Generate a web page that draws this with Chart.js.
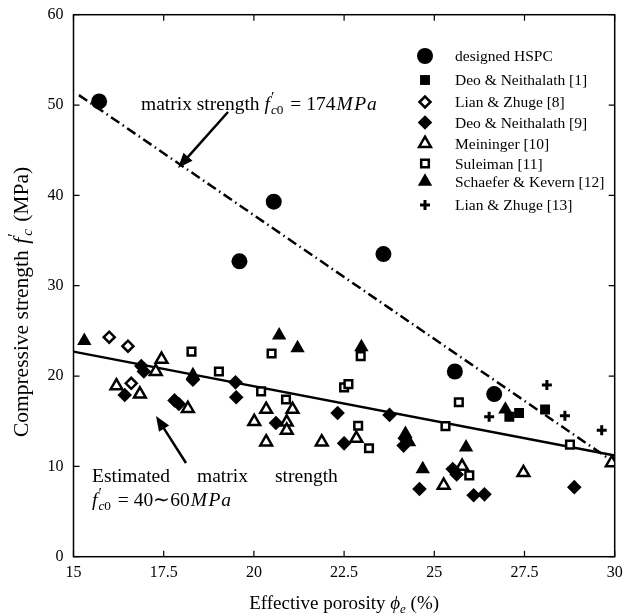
<!DOCTYPE html>
<html>
<head>
<meta charset="utf-8">
<script src="https://cdn.jsdelivr.net/npm/chart.js@4.4.1/dist/chart.umd.min.js"></script>
<style>
  html, body { margin: 0; padding: 0; background: #fff; }
  #wrap { width: 624px; height: 614px; }
</style>
</head>
<body>
<div id="wrap"><canvas id="porosityChart" width="624" height="614"></canvas></div>
<script>
// ticks
const xTicks = [15, 17.5, 20, 22.5, 25, 27.5, 30];
const yTicks = [0, 10, 20, 30, 40, 50, 60];

// [porosity %, strength MPa]
const hspc = [[15.71, 50.4], [19.6, 32.7], [20.55, 39.3], [23.59, 33.5], [25.57, 20.5], [26.66, 18.0]];
const deo1 = [[27.08, 15.5], [27.35, 15.9], [28.07, 16.3]];
const lian8 = [[15.99, 24.3], [16.51, 23.3], [16.6, 19.2]];
const deo9 = [[16.42, 17.9], [16.88, 21.1], [16.95, 20.5], [17.8, 17.3], [17.92, 16.9], [18.31, 19.6],
  [19.49, 19.3], [19.51, 17.65], [20.61, 14.8], [22.32, 15.9], [22.5, 12.55], [23.76, 15.7],
  [24.18, 13.1], [24.15, 12.3], [24.59, 7.5], [25.51, 9.7], [25.62, 9.1], [26.09, 6.8],
  [26.39, 6.9], [28.88, 7.7]];
const meininger = [[16.19, 18.9], [16.84, 18.0], [17.28, 20.5], [17.44, 21.85], [18.17, 16.4],
  [20.01, 14.95], [20.34, 16.3], [20.34, 12.7], [20.91, 14.9], [20.91, 14.0], [21.07, 16.3],
  [21.88, 12.7], [22.84, 13.1], [25.26, 7.9], [25.77, 10.0], [27.47, 9.3], [29.92, 10.4]];
const suleiman = [[18.27, 22.7], [19.03, 20.5], [20.2, 18.3], [20.49, 22.5], [20.89, 17.4],
  [22.5, 18.75], [22.62, 19.1], [22.89, 14.5], [22.96, 22.2], [23.19, 12.0], [25.31, 14.45],
  [25.68, 17.1], [25.97, 9.0], [28.76, 12.4]];
const schaefer = [[15.3, 23.9], [18.31, 20.1], [20.7, 24.5], [21.21, 23.1], [22.98, 23.2],
  [24.2, 13.6], [24.3, 12.7], [24.68, 9.7], [25.88, 12.1], [26.97, 16.3]];
const lian13 = [[26.52, 15.5], [28.12, 19.0], [28.62, 15.6], [29.64, 14.0]];

// fitted lines (end points)
const upperX = [15.15, 30];
const upperY = [51.1, 10.4];
const fitX = [15, 30];
const fitY = [22.7, 11.2];

const legendNames = ["designed HSPC", "Deo & Neithalath [1]", "Lian & Zhuge [8]", "Deo & Neithalath [9]",
  "Meininger [10]", "Suleiman [11]", "Schaefer & Kevern [12]", "Lian & Zhuge [13]"];

const SERIF = '"Liberation Serif", "Times New Roman", serif';

function pts(arr) { return arr.map(p => ({ x: p[0], y: p[1] })); }
function linePts(xs, ys) { return xs.map((x, i) => ({ x: x, y: ys[i] })); }

function marker(label, data, style, r, filled, bw) {
  return {
    label: label,
    data: pts(data),
    pointStyle: style,
    pointRadius: r,
    pointHoverRadius: r,
    backgroundColor: filled ? "#000" : "#fff",
    borderColor: "#000",
    borderWidth: bw,
    showLine: false
  };
}

const markerSets = [
  marker(legendNames[0], hspc, "circle", 8, true, 0),
  marker(legendNames[1], deo1, "rect", 7, true, 0),
  marker(legendNames[2], lian8, "rectRot", 5.5, false, 2.5),
  marker(legendNames[3], deo9, "rectRot", 7.3, true, 0),
  marker(legendNames[4], meininger, "triangle", 6.8, false, 2.5),
  marker(legendNames[5], suleiman, "rect", 5.4, false, 2.5),
  marker(legendNames[6], schaefer, "triangle", 8.3, true, 0),
  marker(legendNames[7], lian13, "cross", 5, false, 3)
];

// draw a list of text runs (for the math bits)
function runWidth(ctx, parts) {
  let w = 0;
  parts.forEach(p => { ctx.font = p.f; if (!p.noAdv) w += ctx.measureText(p.t).width + (p.dx || 0); });
  return w;
}
function drawRuns(ctx, x, y, parts) {
  parts.forEach(p => {
    ctx.font = p.f;
    ctx.fillText(p.t, x + (p.dx || 0), y + (p.dy || 0));
    if (!p.noAdv) x += ctx.measureText(p.t).width + (p.dx || 0);
  });
}
function arrow(ctx, x1, y1, x2, y2) {
  const a = Math.atan2(y2 - y1, x2 - x1);
  const hl = 15, hw = 6;
  ctx.lineWidth = 2.5;
  ctx.beginPath();
  ctx.moveTo(x1, y1);
  ctx.lineTo(x2 - Math.cos(a) * hl * 0.8, y2 - Math.sin(a) * hl * 0.8);
  ctx.stroke();
  ctx.beginPath();
  ctx.moveTo(x2, y2);
  ctx.lineTo(x2 - Math.cos(a) * hl - Math.sin(a) * hw, y2 - Math.sin(a) * hl + Math.cos(a) * hw);
  ctx.lineTo(x2 - Math.cos(a) * hl + Math.sin(a) * hw, y2 - Math.sin(a) * hl - Math.cos(a) * hw);
  ctx.closePath();
  ctx.fill();
}

const R = s => s + "px " + SERIF;
const I = s => "italic " + s + "px " + SERIF;

function fc0(size) {
  return [
    { t: "f", f: I(size) },
    { t: "\u2032", f: R(size * 0.8), dy: -size * 0.42, dx: 1, noAdv: true },
    { t: "c", f: I(size * 0.68), dy: size * 0.22, dx: 1 },
    { t: "0", f: R(size * 0.68), dy: size * 0.22 }
  ];
}
function mpa(size) {
  return [
    { t: "M", f: I(size), dx: 1 },
    { t: "P", f: I(size), dx: 1.5 },
    { t: "a", f: I(size), dx: 1 }
  ];
}

const decorPlugin = {
  id: "decor",
  afterDraw(chart) {
    const ctx = chart.ctx;
    const a = chart.chartArea;
    const xs = chart.scales.x, ys = chart.scales.y;
    ctx.save();
    ctx.fillStyle = "#000";
    ctx.strokeStyle = "#000";

    // frame + inward ticks on all sides
    ctx.lineWidth = 1.5;
    ctx.strokeRect(a.left, a.top, a.right - a.left, a.bottom - a.top);
    ctx.lineWidth = 1.2;
    ctx.beginPath();
    xTicks.forEach(v => {
      const px = xs.getPixelForValue(v);
      ctx.moveTo(px, a.bottom); ctx.lineTo(px, a.bottom - 6);
      ctx.moveTo(px, a.top); ctx.lineTo(px, a.top + 6);
    });
    yTicks.forEach(v => {
      const py = ys.getPixelForValue(v);
      ctx.moveTo(a.left, py); ctx.lineTo(a.left + 6, py);
      ctx.moveTo(a.right, py); ctx.lineTo(a.right - 6, py);
    });
    ctx.stroke();

    // legend
    ctx.textBaseline = "middle";
    ctx.textAlign = "left";
    const rowY = [56, 80, 102, 122.5, 143.5, 163.5, 181.5, 205];
    markerSets.forEach((ds, i) => {
      ctx.fillStyle = ds.backgroundColor;
      ctx.strokeStyle = ds.borderColor;
      ctx.lineWidth = ds.borderWidth;
      Chart.helpers.drawPoint(ctx, { pointStyle: ds.pointStyle, radius: ds.pointRadius, borderWidth: ds.borderWidth, rotation: 0 }, 425, rowY[i]);
      ctx.fillStyle = "#000";
      ctx.font = R(15.5);
      ctx.fillText(ds.label, 455, rowY[i] + 1);
    });

    ctx.textBaseline = "alphabetic";
    ctx.fillStyle = "#000";
    ctx.strokeStyle = "#000";

    // upper annotation
    drawRuns(ctx, 141, 110, [{ t: "matrix strength ", f: R(19.5) }]
      .concat(fc0(19.5), [{ t: " = 174", f: R(19.5), dx: 2 }], mpa(19.5)));
    arrow(ctx, 228, 112, 178, 168);

    // lower annotation
    ctx.font = R(19.5);
    ctx.fillText("Estimated", 92, 482);
    ctx.fillText("matrix", 197, 482);
    ctx.fillText("strength", 275, 482);
    drawRuns(ctx, 92, 506, fc0(19.5).concat([{ t: " = 40\u223C60", f: R(19.5), dx: 2 }], mpa(19.5)));
    arrow(ctx, 186, 463, 156, 416);

    // x axis title
    const xt = [
      { t: "Effective porosity ", f: R(19) },
      { t: "\u03D5", f: I(19) },
      { t: "e", f: I(13), dy: 4 },
      { t: " (%)", f: R(19) }
    ];
    const cx = (a.left + a.right) / 2;
    drawRuns(ctx, cx - runWidth(ctx, xt) / 2, 609, xt);

    // y axis title
    const yt = [
      { t: "Compressive strength ", f: R(21.5) },
      { t: "f", f: I(21.5), dx: 1 },
      { t: "\u2032", f: R(17), dy: -9, dx: 1, noAdv: true },
      { t: "c", f: I(15), dy: 4, dx: 2 },
      { t: " (MPa)", f: R(21.5), dx: 2 }
    ];
    ctx.translate(28, 302);
    ctx.rotate(-Math.PI / 2);
    drawRuns(ctx, -runWidth(ctx, yt) / 2, 0, yt);
    ctx.restore();
  }
};

new Chart(document.getElementById("porosityChart"), {
  type: "scatter",
  data: {
    datasets: markerSets.concat([
      {
        label: "upper",
        data: linePts(upperX, upperY),
        showLine: true,
        borderColor: "#000",
        borderWidth: 2.5,
        borderDash: [10, 4, 1.5, 4],
        pointRadius: 0,
        fill: false
      },
      {
        label: "fit",
        data: linePts(fitX, fitY),
        showLine: true,
        borderColor: "#000",
        borderWidth: 2.5,
        pointRadius: 0,
        fill: false
      }
    ])
  },
  options: {
    responsive: false,
    animation: false,
    devicePixelRatio: 1,
    layout: { padding: { top: 14.7, right: 7.5, left: 0, bottom: 0 } },
    plugins: { legend: { display: false }, tooltip: { enabled: false } },
    scales: {
      x: {
        type: "linear",
        min: 15, max: 30,
        afterBuildTicks: s => { s.ticks = xTicks.map(v => ({ value: v })); },
        afterFit: s => { s.height = 57.3; s.paddingLeft = 0; s.paddingRight = 0; },
        grid: { display: false, drawTicks: false },
        border: { display: false },
        ticks: { color: "#000", font: { family: SERIF, size: 16 }, padding: 6, maxRotation: 0, autoSkip: false },
        title: { display: false }
      },
      y: {
        type: "linear",
        min: 0, max: 60,
        afterBuildTicks: s => { s.ticks = yTicks.map(v => ({ value: v })); },
        afterFit: s => { s.width = 73.5; s.paddingTop = 0; s.paddingBottom = 0; },
        grid: { display: false, drawTicks: false },
        border: { display: false },
        ticks: { color: "#000", font: { family: SERIF, size: 16 }, padding: 10, autoSkip: false },
        title: { display: false }
      }
    }
  },
  plugins: [decorPlugin]
});
</script>
</body>
</html>
